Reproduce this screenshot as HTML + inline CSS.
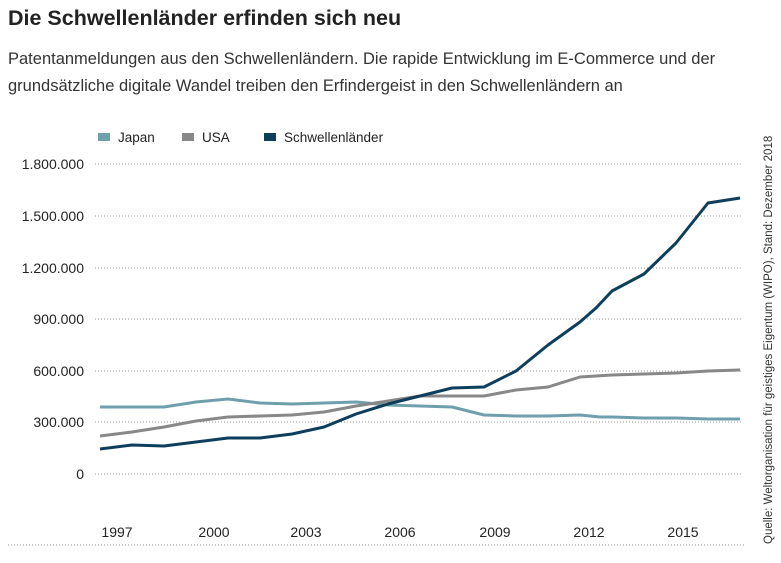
<!DOCTYPE html>
<html><head><meta charset="utf-8"><style>
body{margin:0;background:#fff;width:781px;height:558px;overflow:hidden;font-family:"Liberation Sans",sans-serif;}
</style></head><body>
<svg width="781" height="558" xmlns="http://www.w3.org/2000/svg" font-family="Liberation Sans, sans-serif">
<text x="8" y="25" font-size="21.5" font-weight="bold" fill="#222">Die Schwellenländer erfinden sich neu</text>
<text x="8" y="64" font-size="16.5" fill="#333">Patentanmeldungen aus den Schwellenländern. Die rapide Entwicklung im E-Commerce und der</text>
<text x="8" y="91" font-size="16.5" fill="#333">grundsätzliche digitale Wandel treiben den Erfindergeist in den Schwellenländern an</text>
<g font-size="13.5" fill="#222">
<rect x="98" y="133" width="12" height="8" fill="#6f9fad"/><text x="118" y="142">Japan</text>
<rect x="182" y="133" width="12" height="8" fill="#888"/><text x="202" y="142">USA</text>
<rect x="264" y="133" width="12" height="8" fill="#0d3f5c"/><text x="284" y="142">Schwellenländer</text>
</g>
<g stroke="#999" stroke-width="1" stroke-dasharray="1,2">
<line x1="95" y1="164" x2="742" y2="164"/><line x1="95" y1="216" x2="742" y2="216"/>
<line x1="95" y1="268" x2="742" y2="268"/><line x1="95" y1="319" x2="742" y2="319"/>
<line x1="95" y1="371" x2="742" y2="371"/><line x1="95" y1="422" x2="742" y2="422"/>
<line x1="95" y1="474" x2="742" y2="474"/>
<line x1="8" y1="545" x2="745" y2="545"/>
</g>
<g font-size="14" fill="#222" text-anchor="end">
<text x="84" y="169">1.800.000</text><text x="84" y="221">1.500.000</text>
<text x="84" y="273">1.200.000</text><text x="84" y="324">900.000</text>
<text x="84" y="376">600.000</text><text x="84" y="427">300.000</text>
<text x="84" y="479">0</text>
</g>
<g font-size="14" fill="#222" text-anchor="middle">
<text x="117" y="537">1997</text><text x="214" y="537">2000</text><text x="306" y="537">2003</text>
<text x="400" y="537">2006</text><text x="495" y="537">2009</text><text x="589" y="537">2012</text><text x="683" y="537">2015</text>
</g>
<g fill="none" stroke-width="3" stroke-linejoin="round">
<polyline stroke="#6f9fad" points="100,407 132,407 164,407 196,402 228,399 260,403 292,404 324,403 356,402 388,405 420,406 452,407 484,415 516,416 548,416 580,415 600,417 612,417 644,418 676,418 708,419 740,419"/>
<polyline stroke="#888" points="100,436 132,432 164,427 196,421 228,417 260,416 292,415 324,412 356,406 388,401 420,396 452,396 484,396 516,390 548,387 580,377 612,375 644,374 676,373 708,371 740,370"/>
<polyline stroke="#0d3f5c" points="100,449 132,445 164,446 196,442 228,438 260,438 292,434 324,427 356,414 388,404 420,396 452,388 484,387 516,371 548,345 580,322 596,308 612,291 644,274 676,243 708,203 740,198"/>
</g>
<text transform="translate(772,544) rotate(-90)" font-size="11.5" fill="#333">Quelle: Weltorganisation für geistiges Eigentum (WIPO), Stand: Dezember 2018</text>
</svg>
</body></html>
